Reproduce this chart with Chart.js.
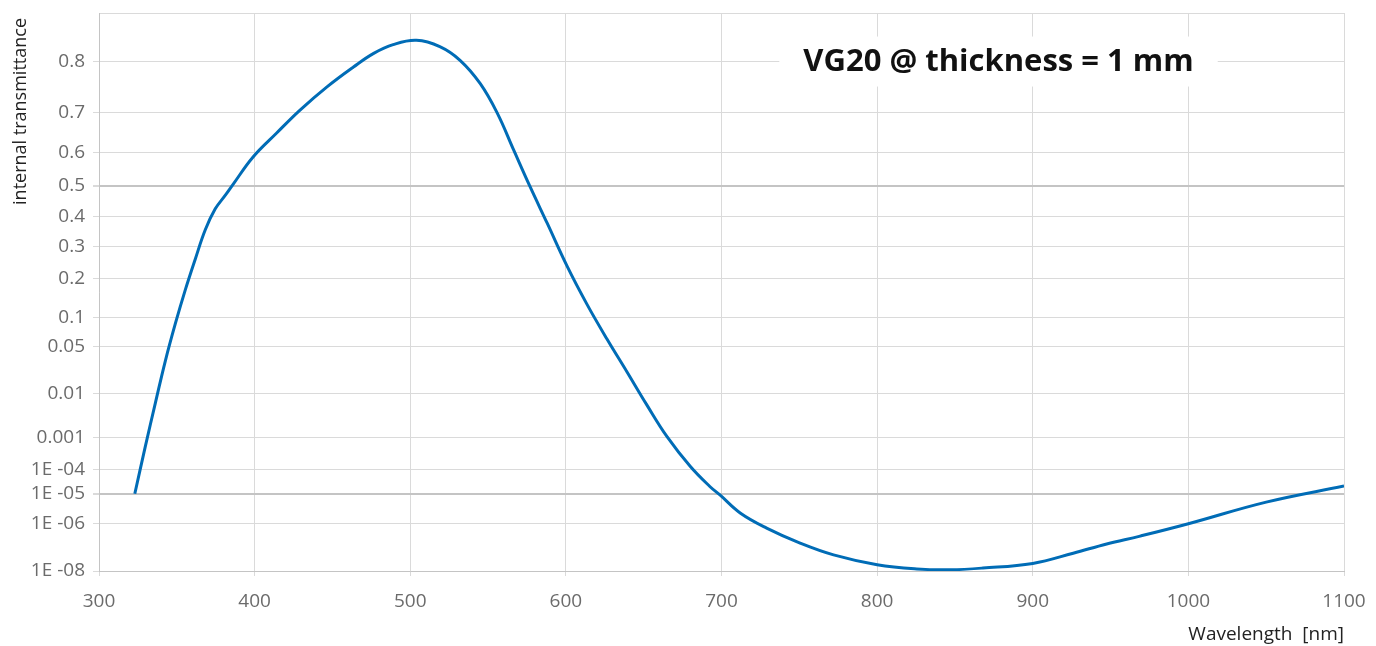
<!DOCTYPE html>
<html>
<head>
<meta charset="utf-8">
<script src="https://cdn.jsdelivr.net/npm/chart.js@4.4.0/dist/chart.umd.min.js"></script>
<style>
html, body { margin: 0; padding: 0; background: #fff; }
#wrap { width: 1376px; height: 646px; }
</style>
</head>
<body>
<div id="wrap"><canvas id="chart" width="1376" height="646"></canvas></div>
<script>
// wavelength [nm] and internal transmittance
const wavelengths = [323, 329.7, 336.2, 342.6, 349, 355.4, 361.9, 368.3, 374.7, 381.2, 386.5, 399, 414, 429,
    446.5, 463.5, 476.5, 489, 504, 519, 532, 545, 556, 566.5, 577, 588, 600.7, 613.5, 626.4, 639.3, 652,
    665, 680, 692.5, 699, 712, 729, 750.5, 772, 800, 825.5, 847, 868, 900, 926, 947.5, 969, 1000, 1050, 1100];
const transmittance = [1.0e-5, 5.5e-4, 6.5e-3, 0.0324, 0.0867, 0.166, 0.259, 0.355, 0.425, 0.470, 0.507,
    0.587, 0.651, 0.706, 0.755, 0.791, 0.813, 0.826, 0.832, 0.823, 0.802, 0.761, 0.699, 0.606, 0.497,
    0.377, 0.237, 0.130, 0.0605, 0.0226, 6.0e-3, 1.07e-3, 1.26e-4, 2.1e-5, 9.2e-6, 2.4e-6, 6.9e-7,
    1.78e-7, 5.6e-8, 2.0e-8, 1.26e-8, 1.15e-8, 1.39e-8, 2.3e-8, 6.6e-8, 1.64e-7, 3.4e-7, 1.0e-6,
    5.5e-6, 2.2e-5];

const yTickValues = [0.8, 0.7, 0.6, 0.5, 0.4, 0.3, 0.2, 0.1, 0.05, 0.01, 0.001, 1e-4, 1e-5, 1e-6, 1e-8];
const yTickLabels = ['0.8', '0.7', '0.6', '0.5', '0.4', '0.3', '0.2', '0.1', '0.05', '0.01', '0.001',
    '1E -04', '1E -05', '1E -06', '1E -08'];
const yBoldTicks = [0.5, 1e-5];
const xTickValues = [300, 400, 500, 600, 700, 800, 900, 1000, 1100];
const titleText = 'VG20 @ thickness = 1 mm';
const yTitleText = 'internal transmittance';

// ordinate of the sheet: log10(-log10 T); under 1E-05 it is stretched
const dbl = t => Math.log10(-Math.log10(t));
const lowKnots = [[dbl(1e-5), dbl(1e-5)], [dbl(1e-6), 0.8177], [dbl(1e-8), 1.005]];
function toAxis(t) {
    const w = dbl(t);
    if (w <= lowKnots[0][0]) return w;
    for (let i = 1; i < lowKnots.length; i++) {
        const [w0, a0] = lowKnots[i - 1];
        const [w1, a1] = lowKnots[i];
        if (w <= w1 || i === lowKnots.length - 1) return a0 + (w - w0) / (w1 - w0) * (a1 - a0);
    }
}
const yTop = -1.206;
const yBottom = toAxis(1e-8);

const gridColor = '#dadada';
const boldColor = '#c4c4c4';
const labelColor = '#6b6b6b';

// white box with the glass name on the 0.8 line, plus the y title at the top left
const annotations = {
    id: 'annotations',
    beforeDatasetsDraw(chart) {
        const { ctx, scales: { x, y } } = chart;
        ctx.save();
        ctx.font = 'bold 31px "Open Sans"';
        const w = ctx.measureText(titleText).width;
        const cx = x.getPixelForValue(878);
        const cy = y.getPixelForValue(toAxis(0.8));
        ctx.fillStyle = '#fff';
        ctx.fillRect(cx - w / 2 - 24, cy - 25, w + 48, 50);
        ctx.fillStyle = '#111';
        ctx.textAlign = 'center';
        ctx.textBaseline = 'middle';
        ctx.fillText(titleText, cx, cy + 1);
        ctx.restore();
    },
    afterDraw(chart) {
        const ctx = chart.ctx;
        ctx.save();
        ctx.translate(21, chart.chartArea.top + 5);
        ctx.rotate(-Math.PI / 2);
        ctx.font = '18px "Open Sans"';
        ctx.fillStyle = '#222';
        ctx.textAlign = 'right';
        ctx.textBaseline = 'middle';
        ctx.fillText(yTitleText, 0, 0);
        ctx.restore();
    }
};

const isBold = i => i > 0 && yBoldTicks.includes(yTickValues[i - 1]);

new Chart(document.getElementById('chart'), {
    type: 'line',
    data: {
        datasets: [{
            data: wavelengths.map((nm, i) => ({ x: nm, y: toAxis(transmittance[i]) })),
            borderColor: '#006cb6',
            borderWidth: 3,
            pointRadius: 0,
            fill: false,
            tension: 0.4
        }]
    },
    options: {
        responsive: false,
        animation: false,
        layout: { padding: { top: 13, right: 32, left: 0, bottom: 0 } },
        plugins: { legend: { display: false }, tooltip: { enabled: false } },
        scales: {
            x: {
                type: 'linear',
                min: 300,
                max: 1100,
                afterFit: s => { s.height = 75; s.paddingLeft = 0; s.paddingRight = 0; },
                afterBuildTicks: s => { s.ticks = xTickValues.map(v => ({ value: v })); },
                ticks: {
                    autoSkip: false,
                    color: labelColor,
                    font: { family: 'Open Sans', size: 19 },
                    padding: 14,
                    maxRotation: 0,
                    callback: v => String(v)
                },
                grid: { color: gridColor, tickColor: gridColor, tickLength: 5, lineWidth: 1 },
                border: { color: boldColor },
                title: {
                    display: true,
                    text: 'Wavelength  [nm]',
                    align: 'end',
                    color: '#222',
                    font: { family: 'Open Sans', size: 19 },
                    padding: { top: 0, bottom: 0 }
                }
            },
            y: {
                type: 'linear',
                reverse: true,
                min: yTop,
                max: yBottom,
                afterFit: s => { s.width = 99; s.paddingTop = 0; s.paddingBottom = 0; },
                afterBuildTicks: s => {
                    s.ticks = [{ value: yTop }].concat(yTickValues.map(v => ({ value: toAxis(v) })));
                },
                ticks: {
                    autoSkip: false,
                    color: labelColor,
                    font: { family: 'Open Sans', size: 19 },
                    padding: 8,
                    callback: (v, i) => (i === 0 ? '' : yTickLabels[i - 1])
                },
                grid: {
                    color: c => (isBold(c.index) ? boldColor : gridColor),
                    lineWidth: c => (isBold(c.index) ? 2 : 1),
                    tickColor: c => (c.index === 0 ? 'rgba(0,0,0,0)' : gridColor),
                    tickLength: 6
                },
                border: { color: boldColor }
            }
        }
    },
    plugins: [annotations]
});
</script>
</body>
</html>
